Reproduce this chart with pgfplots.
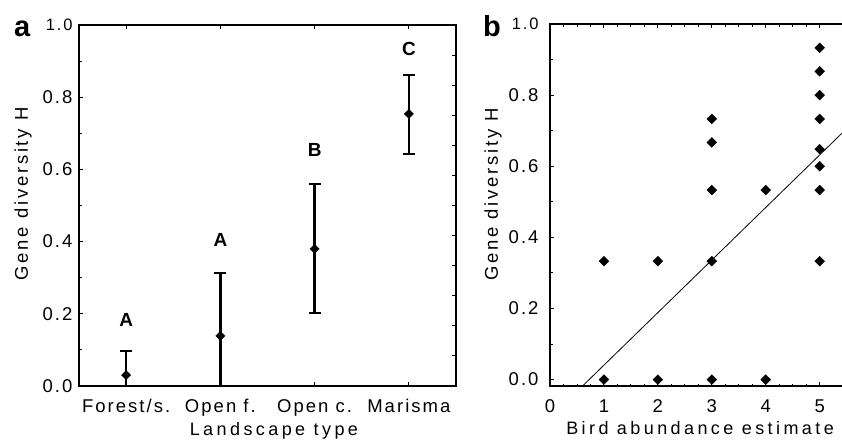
\documentclass[border=0pt]{standalone}
\usepackage{fontspec}
\setmainfont{Liberation Sans}
\newfontfamily\tickfnt{Liberation Sans}[LetterSpace=11]
\newfontfamily\labfnt{Liberation Sans}[LetterSpace=19]
\newfontfamily\ylabfnt{Liberation Sans}[LetterSpace=15]
\usepackage{pgfplots}
\pgfplotsset{compat=1.18}
\newcommand\tf{\fontsize{18.5}{21}\selectfont\tickfnt}
\newcommand\tfs{\fontsize{16.5}{19}\selectfont\tickfnt}
\newcommand\lf{\fontsize{18}{21}\selectfont\labfnt}
\newcommand\ylf{\fontsize{18.5}{21}\selectfont\ylabfnt}
\pgfplotsset{
  common/.style={
    scale only axis, anchor=south west,
    tick align=inside,
    major tick length=4pt, minor tick length=2.5pt,
    every tick/.style={black, line width=0.9pt},
    axis line style={line width=1.1pt},
    tick label style={font=\tf},
    /pgf/number format/assume math mode=true,
    label style={font=\lf},
    ylabel style={font=\ylf},
    xticklabel style={anchor=base, yshift=-26pt},
    yticklabel style={anchor=east, xshift=-3pt},
    clip=false,
  },
  ebar/.style={draw=black, line width=2.3pt, mark=none, forget plot},
  ecap/.style={black, only marks, mark=-, mark size=6pt, mark options={line width=2pt}, forget plot},
}
\begin{document}
\begin{tikzpicture}[x=1pt,y=1pt]
\path[use as bounding box] (0,0) rectangle (842,440);
% ---------- panel a ----------
\begin{axis}[common,
  at={(79pt,54pt)}, width=377pt, height=361pt,
  xmin=0.5, xmax=4.5, ymin=0, ymax=1,
  xtick={1,2,3,4}, xticklabels={Forest/s.,Open f.,Open c.,Marisma},
  ytick={0,0.2,0.4,0.6,0.8,1.0},
  yticklabels={0.0,0.2,0.4,0.6,0.8,{\tfs 1.0}},
  minor ytick={0.1,0.3,0.5,0.7,0.9},
  ytick pos=left,
  xlabel={Landscape type},
  ylabel={Gene diversity H},
  xlabel style={at={(axis description cs:0.517,-0.136)}, anchor=base},
  ylabel style={at={(axis description cs:-0.1485,0.532)}, anchor=center},
]
% error bars (lower, upper limits)
\addplot[ebar] coordinates {(1,0.000) (1,0.097)};
\addplot[ebar] coordinates {(2,0.000) (2,0.312)};
\addplot[ebar] coordinates {(3,0.203) (3,0.559)};
\addplot[ebar] coordinates {(4,0.643) (4,0.862)};
\addplot[ecap] coordinates {(1,0.000) (1,0.097) (2,0.000) (2,0.312) (3,0.203) (3,0.559) (4,0.643) (4,0.862)};
% means
\addplot[only marks, mark=square*, mark size=3.3pt,
  mark options={rotate=45, fill=black, draw=black, line width=0.3pt}]
coordinates {(1,0.030) (2,0.139) (3,0.380) (4,0.754)};
\node[font=\fontsize{19}{22}\selectfont\bfseries] at (axis cs:1,0.183) {A};
\node[font=\fontsize{19}{22}\selectfont\bfseries] at (axis cs:2,0.404) {A};
\node[font=\fontsize{19}{22}\selectfont\bfseries] at (axis cs:3,0.654) {B};
\node[font=\fontsize{19}{22}\selectfont\bfseries] at (axis cs:4,0.933) {C};
\end{axis}
% right-side ticks of panel a (1/12 spacing)
\begin{axis}[common,
  at={(79pt,54pt)}, width=377pt, height=361pt,
  xmin=0.5, xmax=4.5, ymin=0, ymax=1,
  hide x axis, axis y line*=right,
  ytick={0.08333,0.16667,0.25,0.33333,0.41667,0.5,0.58333,0.66667,0.75,0.83333,0.91667},
  yticklabels={},
]
\addplot[draw=none] coordinates {(1,0)};
\end{axis}
% ---------- panel b ----------
\begin{axis}[common,
  at={(550pt,54pt)}, width=296pt, height=362pt,
  xmin=0, xmax=5.488, ymin=-0.018, ymax=1.0,
  xtick={0,1,2,3,4,5}, minor x tick num=3,
  ytick={0,0.2,0.4,0.6,0.8,1.0},
  yticklabels={0.0,0.2,0.4,0.6,0.8,{\tfs 1.0}},
  minor ytick={0.1,0.3,0.5,0.7,0.9},
  ytick pos=left,
  yticklabel style={xshift=-5pt},
  xlabel={Bird abundance estimate},
  ylabel={Gene diversity H},
  xlabel style={at={(axis description cs:0.507,-0.135)}, anchor=base},
  ylabel style={at={(axis description cs:-0.1926,0.530)}, anchor=center},
]
\addplot[only marks, mark=square*, mark size=3.5pt,
  mark options={rotate=45, fill=black, draw=black, line width=0.3pt}]
coordinates {
  (1,0) (1,0.333)
  (2,0) (2,0.333)
  (3,0) (3,0.333) (3,0.533) (3,0.667) (3,0.733)
  (4,0) (4,0.533)
  (5,0.333) (5,0.533) (5,0.600) (5,0.648) (5,0.733) (5,0.800) (5,0.867) (5,0.933)
};
\addplot[black, line width=0.8pt] coordinates {(0.603,-0.018) (5.488,0.704)};
\end{axis}
\node[font=\fontsize{29}{32}\selectfont\bfseries, anchor=base west, inner sep=0pt] at (14,403) {a};
\node[font=\fontsize{29}{32}\selectfont\bfseries, anchor=base west, inner sep=0pt] at (483,403) {b};
\end{tikzpicture}
\end{document}
